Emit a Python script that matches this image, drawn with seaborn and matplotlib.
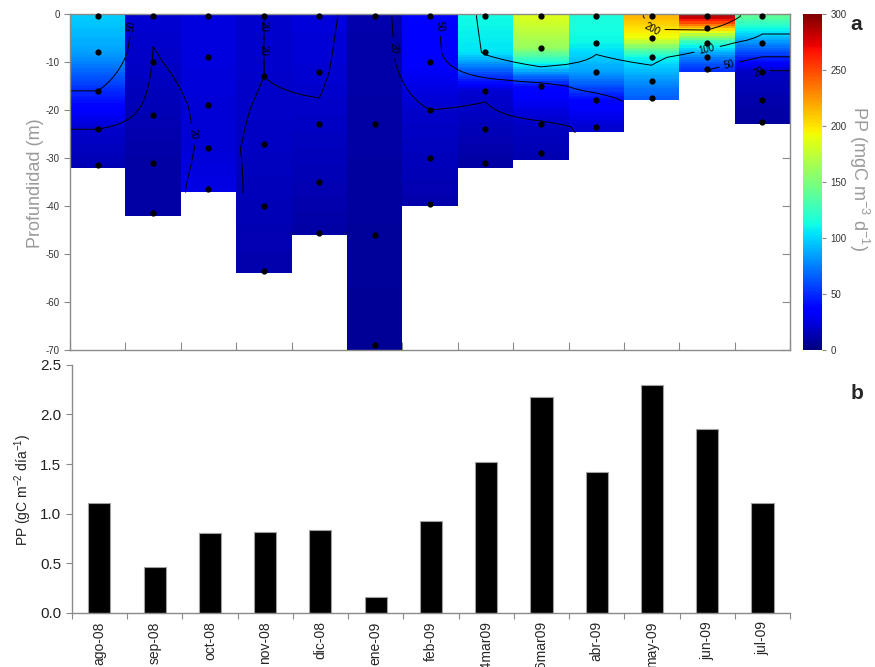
import numpy as np
import pandas as pd
import matplotlib
matplotlib.use("Agg")
import matplotlib.pyplot as plt
from matplotlib.ticker import FormatStrFormatter, FixedLocator
import seaborn as sns

# ---------------- data ----------------
months = ['ago-08', 'sep-08', 'oct-08', 'nov-08', 'dic-08', 'ene-09', 'feb-09',
          '14mar09', '26mar09', 'abr-09', 'may-09', 'jun-09', 'jul-09']

# integrated primary production (gC m-2 dia-1)
pp_integrated = [1.11, 0.46, 0.81, 0.815, 0.84, 0.16, 0.93,
                 1.52, 2.18, 1.42, 2.30, 1.855, 1.105]

# sampling depths (m) for each station
sample_depths = [
    [0.5, 8, 16, 24, 31.5],
    [0.5, 10, 21, 31, 41.5],
    [0.5, 9, 19, 28, 36.5],
    [0.5, 13, 27, 40, 53.5],
    [0.5, 12, 23, 35, 45.5],
    [0.5, 23, 46, 69],
    [0.5, 10, 20, 30, 39.5],
    [0.5, 8, 16, 24, 31],
    [0.5, 7, 15, 23, 29],
    [0.5, 6, 12, 18, 23.5],
    [0.5, 5, 9, 14, 17.5],
    [0.5, 3, 6, 9, 11.5],
    [0.5, 6, 12, 18, 22.5],
]

# volumetric primary production (mgC m-3 d-1) at each sampling depth
sample_pp = [
    [98, 85, 50, 20, 14],
    [22, 19, 14, 10, 10],
    [25, 25, 23, 23, 27],
    [20, 20, 18, 15, 12],
    [24, 22, 18, 14, 10],
    [12, 10, 8, 6],
    [38, 35, 20, 16, 12],
    [112, 105, 22, 15, 10],
    [185, 160, 40, 18, 14],
    [115, 110, 85, 38, 22],
    [215, 190, 110, 80, 65],
    [290, 210, 120, 75, 52],
    [140, 80, 18, 12, 9],
]

# depth of the bottom of each profile (m)
station_bottom = [32, 42, 37, 54, 46, 70, 40, 32, 30.5, 24.5, 18, 12, 23]

contour_levels = [20, 50, 100, 200]

# ---------------- style ----------------
sns.set_style("white")
plt.rcParams['font.family'] = ['Liberation Sans', 'DejaVu Sans']
plt.rcParams['axes.unicode_minus'] = False
plt.rcParams['mathtext.fontset'] = 'custom'
plt.rcParams['mathtext.rm'] = 'Liberation Sans'
plt.rcParams['mathtext.it'] = 'Liberation Sans:italic'
plt.rcParams['mathtext.bf'] = 'Liberation Sans:bold'

fig = plt.figure(figsize=(8.75, 6.67), dpi=100)
ax1 = fig.add_axes([0.080, 0.475, 0.823, 0.504])
cax = fig.add_axes([0.918, 0.475, 0.021, 0.504])
ax2 = fig.add_axes([0.082, 0.081, 0.821, 0.372])

spine_col = '#8a8a8a'

# ---------------- panel a: depth section ----------------
n = len(months)
dz = 0.5
z_edges = np.arange(0, 70 + dz / 2, dz)
z_cent = (z_edges[:-1] + z_edges[1:]) / 2
C = np.full((len(z_cent), n), np.nan)
for i in range(n):
    prof = np.interp(z_cent, sample_depths[i], sample_pp[i])
    prof[z_cent > station_bottom[i]] = np.nan
    C[:, i] = prof
Cm = np.ma.masked_invalid(C)
mesh = ax1.pcolormesh(np.arange(n + 1), -z_edges, Cm, cmap='jet',
                      vmin=0, vmax=300, shading='flat')

# contour field on station centres (extended to the edges)
xc = np.concatenate([[0], np.arange(n) + 0.5, [n]])
zg = np.arange(0, 70.01, 0.5)
Z = np.full((len(zg), n + 2), np.nan)
for i in range(n):
    prof = np.interp(zg, sample_depths[i], sample_pp[i])
    prof[zg > station_bottom[i] + 0.01] = np.nan
    Z[:, i + 1] = prof
Z[:, 0] = Z[:, 1]
Z[:, -1] = Z[:, -2]
cs = ax1.contour(xc, -zg, np.ma.masked_invalid(Z), levels=contour_levels,
                 colors='k', linewidths=0.7)
ax1.clabel(cs, fontsize=7, fmt='%d', inline=True)

for i in range(n):
    ax1.scatter([i + 0.5] * len(sample_depths[i]), -np.array(sample_depths[i]),
                s=12, color='black', zorder=5, clip_on=False)

ax1.set_xlim(0, n)
ax1.set_ylim(-70, 0)
ax1.set_yticks(np.arange(-70, 1, 10))
ax1.set_xticks(np.arange(0, n + 1))
ax1.set_xticklabels([])
ax1.tick_params(axis='y', which='both', left=True, right=False, direction='out',
                length=4, width=0.8, color=spine_col, labelsize=7, labelcolor='#333333')
ax1.tick_params(axis='x', bottom=True, direction='in', length=6, width=0.8, color=spine_col)
sec = ax1.secondary_yaxis('right')
sec.set_yticks(np.arange(-70, 1, 10))
sec.set_yticklabels([])
sec.tick_params(direction='in', length=6, width=0.8, color=spine_col)
sec.spines['right'].set_visible(False)
for s in ax1.spines.values():
    s.set_color(spine_col)
    s.set_linewidth(1.0)

cb = fig.colorbar(mesh, cax=cax, ticks=np.arange(0, 301, 50))
cb.outline.set_visible(False)
cax.tick_params(labelsize=7, length=3, color=spine_col, labelcolor='#333333')

fig.text(0.041, 0.725, 'Profundidad (m)', rotation=90, ha='center', va='center',
         fontsize=13, color='#9a9a9a')
fig.text(0.982, 0.732, 'PP (mgC m$^{-3}$ d$^{-1}$)', rotation=-90, ha='center',
         va='center', fontsize=13, color='#9a9a9a')
fig.text(0.978, 0.978, 'a', fontsize=15, fontweight='bold', ha='center', va='top')
fig.text(0.980, 0.425, 'b', fontsize=15, fontweight='bold', ha='center', va='top')

# ---------------- panel b: integrated PP bars ----------------
df = pd.DataFrame({'mes': months, 'pp': pp_integrated})
sns.barplot(data=df, x='mes', y='pp', color='black', saturation=1,
            edgecolor='#a0a0a0', linewidth=0.8, width=0.4, errorbar=None, ax=ax2)
ax2.set_xlim(-0.5, n - 0.5)
ax2.set_ylim(0, 2.5)
ax2.set_yticks(np.arange(0, 2.51, 0.5))
ax2.yaxis.set_major_formatter(FormatStrFormatter('%.1f'))
ax2.set_xlabel('')
ax2.set_ylabel('')
ax2.tick_params(axis='x', which='major', length=0, labelsize=10, labelrotation=90, pad=6)
ax2.xaxis.set_minor_locator(FixedLocator(np.arange(-0.5, n, 1.0)))
ax2.tick_params(axis='x', which='minor', bottom=True, length=4, width=0.8,
                color=spine_col, direction='out')
ax2.tick_params(axis='y', left=True, length=4, width=0.8, color=spine_col,
                direction='out', labelsize=11, labelcolor='#222222')
for side in ['top', 'right']:
    ax2.spines[side].set_visible(False)
for side in ['left', 'bottom']:
    ax2.spines[side].set_color(spine_col)
    ax2.spines[side].set_linewidth(1.0)

fig.text(0.026, 0.265, 'PP (gC m$^{-2}$ día$^{-1}$)', rotation=90, ha='center',
         va='center', fontsize=10, color='#222222')

fig.savefig('out.png', dpi=100)
